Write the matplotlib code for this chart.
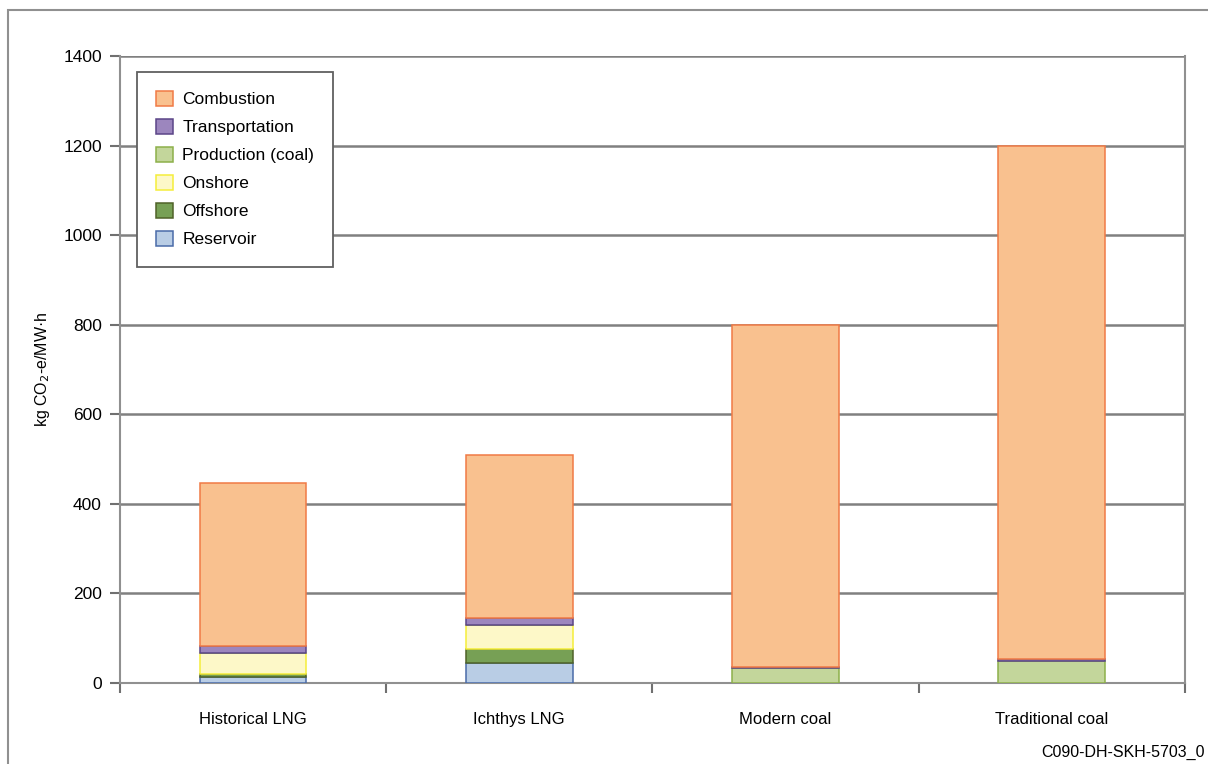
import numpy as np
import matplotlib.pyplot as plt
from matplotlib.patches import Rectangle

plt.rcParams['font.family'] = ['Liberation Sans', 'DejaVu Sans']

# Values (kg CO2-e/MW.h)
categories = ['Historical LNG', 'Ichthys LNG', 'Modern coal', 'Traditional coal']
reservoir = [13, 45, 0, 0]
offshore = [8, 32, 0, 0]
onshore = [45, 52, 0, 0]
production_coal = [0, 0, 33, 50]
transportation = [16, 16, 2, 4]
combustion = [365, 364, 765, 1146]

# stacking order bottom -> top, with (fill, edge) colours
layers = [
    ('Reservoir', reservoir, '#B9CDE5', '#4A6BA8'),
    ('Offshore', offshore, '#77A055', '#4F6228'),
    ('Onshore', onshore, '#FDF8C8', '#F5EE3A'),
    ('Production (coal)', production_coal, '#C3D69B', '#8DB04A'),
    ('Transportation', transportation, '#9C86BE', '#5B4588'),
    ('Combustion', combustion, '#F9C18F', '#F07A45'),
]

fig = plt.figure(figsize=(12.08, 7.64), dpi=100)
ax = fig.add_axes([0.0993, 0.106, 0.8815, 0.8207])

x = np.arange(len(categories))
bottom = np.zeros(len(categories))
handles = {}
for name, vals, fc, ec in layers:
    vals = np.array(vals, dtype=float)
    bars = ax.bar(x, vals, width=0.4, bottom=bottom, color=fc, edgecolor=ec,
                  linewidth=1.1, label=name, zorder=3)
    handles[name] = bars
    bottom += vals

ax.set_xlim(-0.5, 3.5)
ax.set_ylim(0, 1400)
ax.set_yticks(range(0, 1401, 200))
ax.yaxis.grid(True, color='#808080', linewidth=1.8, zorder=0)
ax.set_xticks(x)
ax.set_xticklabels(categories, fontsize=12)
ax.tick_params(axis='x', length=0, pad=21)
ax.set_xticks(np.arange(-0.5, 3.6, 1), minor=True)
ax.tick_params(axis='x', which='minor', length=7, width=1.5, color='#707070')
ax.tick_params(axis='y', length=7, width=1.5, color='#707070', labelsize=12.5, pad=6)
for s in ax.spines.values():
    s.set_color('#909090')
    s.set_linewidth(1.5)
ax.spines['top'].set_visible(False)

ax.set_ylabel('kg CO$_2$-e/MW·h', fontsize=11.5)
ax.yaxis.set_label_coords(-0.064, 0.5)

order = ['Combustion', 'Transportation', 'Production (coal)', 'Onshore', 'Offshore', 'Reservoir']
leg = ax.legend([handles[n] for n in order], order, loc='upper left',
                bbox_to_anchor=(0.016, 0.975), fontsize=12.5, frameon=True,
                fancybox=False, edgecolor='#606060', framealpha=1,
                handlelength=1.0, handleheight=1.0, labelspacing=0.65,
                borderpad=1.1, handletextpad=0.5, borderaxespad=0)
leg.get_frame().set_linewidth(1.3)

fig.text(0.997, 0.005, 'C090-DH-SKH-5703_0', ha='right', va='bottom', fontsize=11.5)

# outer frame of the figure
fig.patches.append(Rectangle((0.007, -0.01), 1.1, 0.997, transform=fig.transFigure,
                             fill=False, edgecolor='#909090', linewidth=1.5))

fig.savefig('out.png', dpi=100)
